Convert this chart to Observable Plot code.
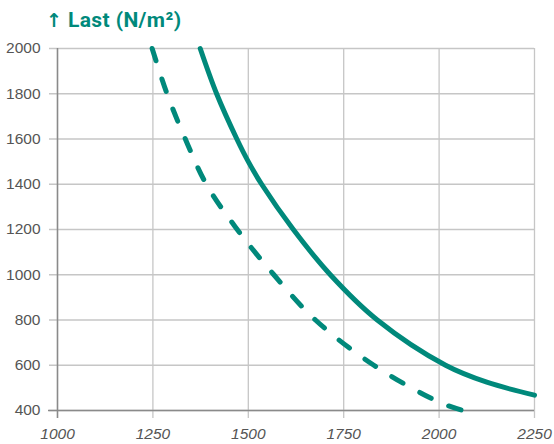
<!DOCTYPE html>
<html><head><meta charset="utf-8">
<script src="https://cdn.jsdelivr.net/npm/d3@7"></script>
<script src="https://cdn.jsdelivr.net/npm/@observablehq/plot@0.6"></script>
<style>
body{margin:0;background:#fff;}
#title{height:36px;box-sizing:border-box;padding-top:5px;line-height:30px;font-family:Roboto,"Liberation Sans",sans-serif;font-weight:700;font-size:21px;letter-spacing:0.4px;color:#00897b;padding-left:46px;white-space:nowrap;}
#title .arr{font-family:"DejaVu Sans",sans-serif;font-weight:700;font-size:19px;}
</style></head><body>
<div id="title"><span class="arr">↑</span> Last (N/m²)</div>
<div id="chart"></div>
<script>
const xTicks = [1000, 1250, 1500, 1750, 2000, 2250];
const yTicks = [400, 600, 800, 1000, 1200, 1400, 1600, 1800, 2000];
// solid curve
const solidX = [1374, 1417, 1470, 1500, 1535, 1618, 1715, 1838, 2017, 2125, 2250];
const solidY = [2000, 1800, 1600, 1500, 1400, 1200, 1000, 800, 600, 525, 468];
// dashed curve
const dashX = [1248, 1287, 1335, 1390, 1471, 1567, 1676, 1829, 2000, 2062];
const dashY = [2000, 1800, 1600, 1400, 1200, 1000, 800, 600, 437, 400];

const teal = "#00897b";
const gridColor = "#c6c6c6";
const solid = solidX.map((x, i) => ({x, y: solidY[i]}));
const dashed = dashX.map((x, i) => ({x, y: dashY[i]}));

const chart = Plot.plot({
  width: 554,
  height: 408,
  marginTop: 12,
  marginLeft: 57,
  marginRight: 20,
  marginBottom: 34,
  style: {fontFamily: "'Liberation Sans', Arial, sans-serif", fontSize: "15px", background: "#fff"},
  x: {domain: [1000, 2250]},
  y: {domain: [400, 2000]},
  marks: [
    Plot.gridY(yTicks, {stroke: gridColor, strokeOpacity: 1, strokeWidth: 1.3, insetLeft: -8}),
    Plot.gridX(xTicks, {stroke: gridColor, strokeOpacity: 1, strokeWidth: 1.3, insetBottom: -8}),
    Plot.axisY(yTicks, {tickSize: 0, tickPadding: 17, fontSize: 15.5, fill: "#555", label: null, tickFormat: d => String(d)}),
    Plot.axisX(xTicks, {tickSize: 0, tickPadding: 17, fontSize: 15.5, fill: "#555", fontStyle: "italic", label: null, tickFormat: d => String(d)}),
    Plot.ruleX([1000], {stroke: "#8a8a8a", strokeWidth: 1.5, insetBottom: -8}),
    Plot.ruleY([400], {stroke: "#8a8a8a", strokeWidth: 1.5, insetLeft: -9}),
    Plot.line(dashed, {x: "x", y: "y", stroke: teal, strokeWidth: 5, strokeLinecap: "round", strokeDasharray: "13,19", curve: "catmull-rom"}),
    Plot.line(solid, {x: "x", y: "y", stroke: teal, strokeWidth: 5, strokeLinecap: "round", curve: "catmull-rom"})
  ]
});
document.getElementById("chart").appendChild(chart);
</script>
</body></html>
